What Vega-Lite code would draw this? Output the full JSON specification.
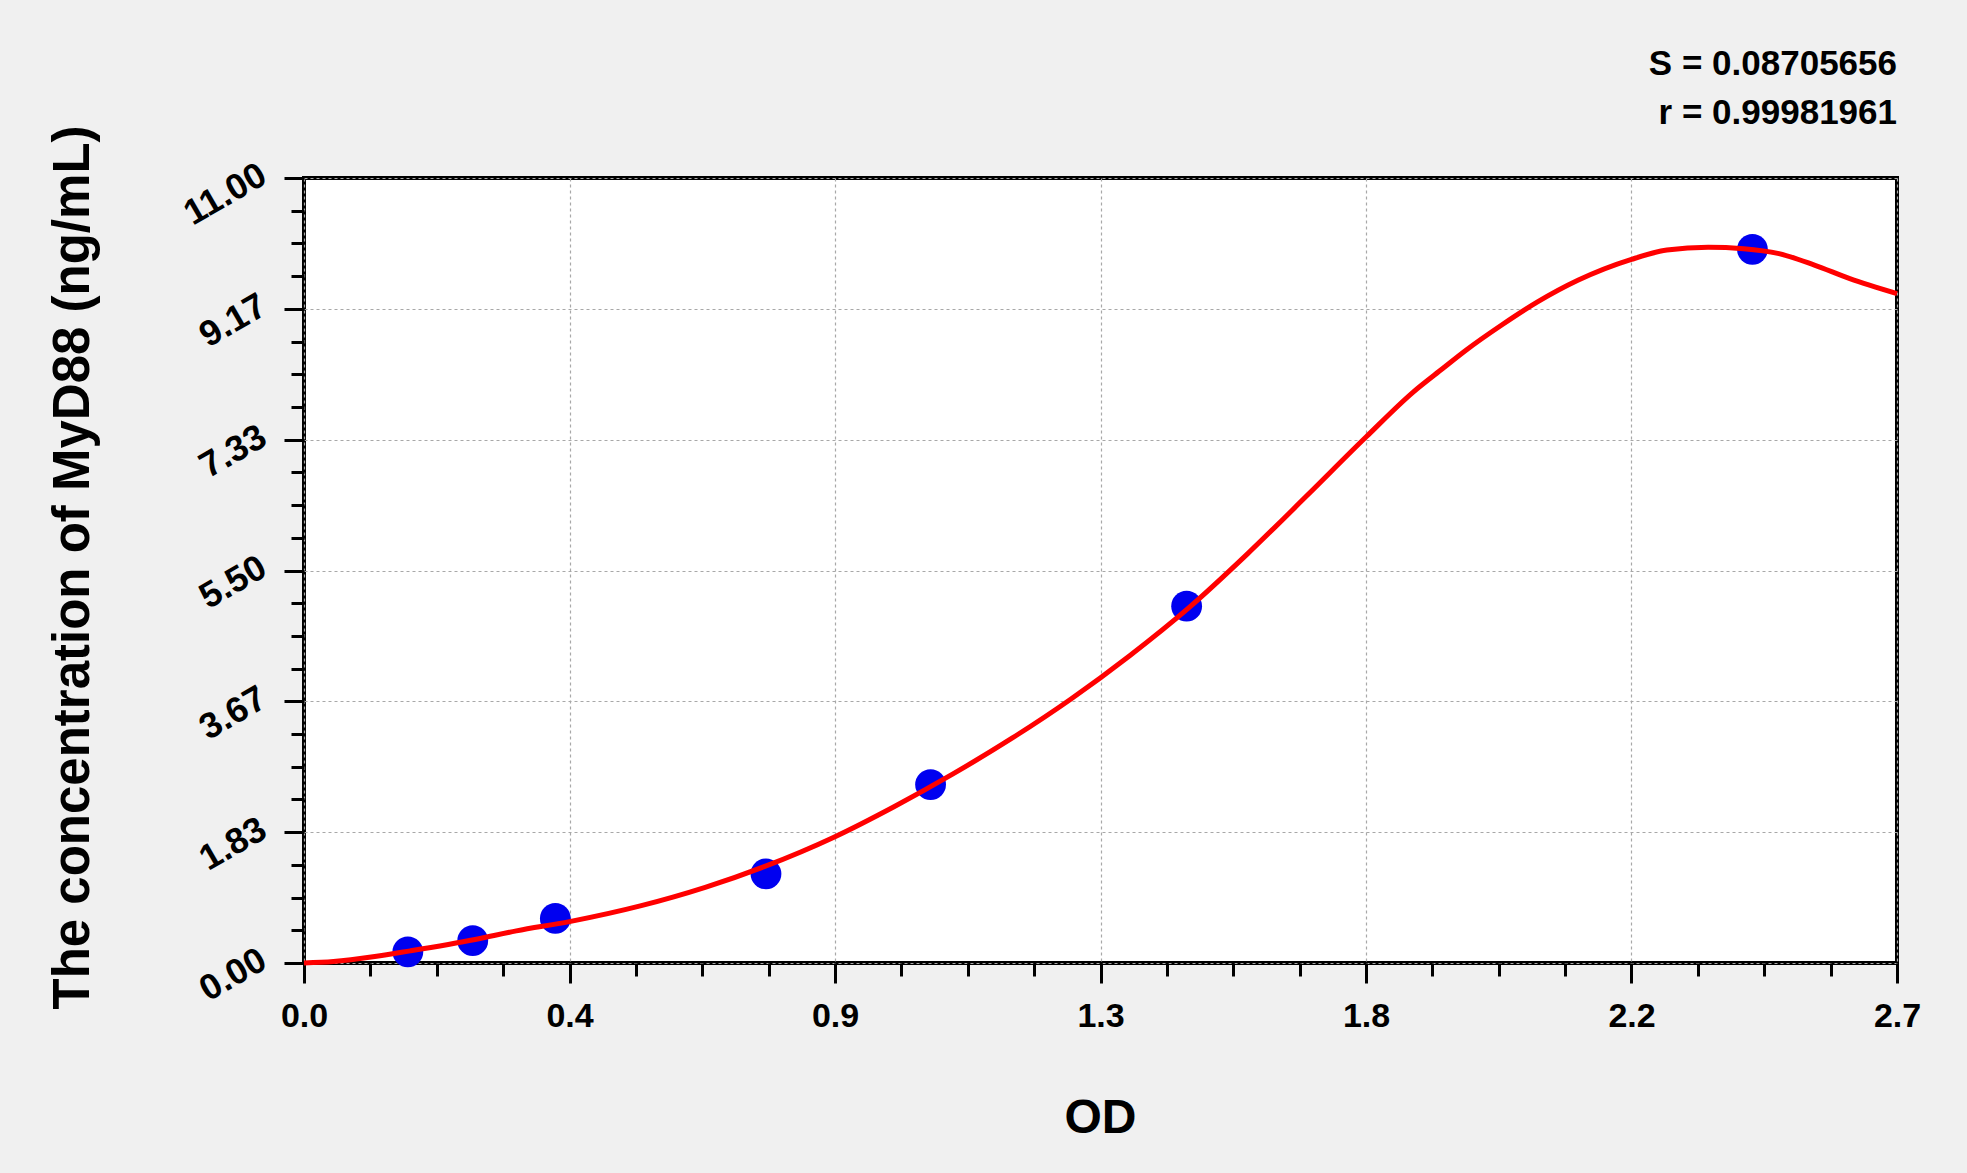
{
  "$schema": "https://vega.github.io/schema/vega-lite/v6.json",
  "autosize": "none",
  "width": 1593,
  "height": 785,
  "padding": {"left": 304, "top": 178, "right": 70, "bottom": 210},
  "background": "#f0f0f0",
  "title": {
    "text": "S = 0.08705656",
    "subtitle": "r = 0.99981961",
    "anchor": "end",
    "orient": "top",
    "frame": "group",
    "offset": 14,
    "dy": 20,
    "font": "Liberation Sans",
    "fontSize": 35,
    "fontWeight": "bold",
    "color": "#000000",
    "subtitleFont": "Liberation Sans",
    "subtitleFontSize": 35,
    "subtitleFontWeight": "bold",
    "subtitleColor": "#000000",
    "subtitlePadding": 14
  },
  "datasets": {
    "standards": [
      {"od": 0.176, "conc": 0.15625},
      {"od": 0.286, "conc": 0.3125},
      {"od": 0.426, "conc": 0.625},
      {"od": 0.783, "conc": 1.25},
      {"od": 1.062, "conc": 2.5},
      {"od": 1.496, "conc": 5.0},
      {"od": 2.455, "conc": 10.0}
    ],
    "fit": [
      {"od": 0.0, "conc": 0.0},
      {"od": 0.05, "conc": 0.02},
      {"od": 0.12, "conc": 0.09},
      {"od": 0.18, "conc": 0.17},
      {"od": 0.29, "conc": 0.33},
      {"od": 0.36, "conc": 0.45},
      {"od": 0.45, "conc": 0.58},
      {"od": 0.57, "conc": 0.8},
      {"od": 0.68, "conc": 1.06},
      {"od": 0.78, "conc": 1.35},
      {"od": 0.9, "conc": 1.77},
      {"od": 1.0, "conc": 2.19},
      {"od": 1.1, "conc": 2.65},
      {"od": 1.2, "conc": 3.15},
      {"od": 1.3, "conc": 3.7},
      {"od": 1.4, "conc": 4.31},
      {"od": 1.5, "conc": 4.98},
      {"od": 1.6, "conc": 5.74},
      {"od": 1.7, "conc": 6.55},
      {"od": 1.8, "conc": 7.37},
      {"od": 1.88, "conc": 8.0},
      {"od": 1.93, "conc": 8.33},
      {"od": 1.97, "conc": 8.59},
      {"od": 2.03, "conc": 8.94},
      {"od": 2.09, "conc": 9.26},
      {"od": 2.16, "conc": 9.57},
      {"od": 2.25, "conc": 9.86},
      {"od": 2.31, "conc": 9.99},
      {"od": 2.38, "conc": 10.03},
      {"od": 2.44, "conc": 10.01},
      {"od": 2.5, "conc": 9.94},
      {"od": 2.56, "conc": 9.78},
      {"od": 2.62, "conc": 9.59},
      {"od": 2.7, "conc": 9.38}
    ]
  },
  "layer": [
    {
      "data": {"name": "standards"},
      "mark": {"type": "point", "filled": true, "shape": "circle", "size": 950, "color": "#0000f0", "opacity": 1},
      "encoding": {
        "x": {
          "field": "od", "type": "quantitative",
          "scale": {"domain": [0, 2.7], "nice": false, "zero": false},
          "axis": {
            "orient": "bottom",
            "values": [0.1125, 0.225, 0.3375, 0.5625, 0.675, 0.7875, 1.0125, 1.125, 1.2375, 1.4625, 1.575, 1.6875, 1.9125, 2.025, 2.1375, 2.3625, 2.475, 2.5875],
            "labels": false, "grid": false, "domain": false, "title": null,
            "tickSize": 13, "tickWidth": 3, "tickColor": "#000000"
          }
        },
        "y": {
          "field": "conc", "type": "quantitative",
          "scale": {"domain": [0, 11], "nice": false, "zero": true},
          "axis": {
            "orient": "left",
            "values": [0.4583, 0.9167, 1.375, 2.2917, 2.75, 3.2083, 4.125, 4.5833, 5.0417, 5.9583, 6.4167, 6.875, 7.7917, 8.25, 8.7083, 9.625, 10.0833, 10.5417],
            "labels": false, "grid": false, "domain": false, "title": null,
            "tickSize": 13, "tickWidth": 3, "tickColor": "#000000"
          }
        }
      }
    },
    {
      "data": {"name": "fit"},
      "mark": {"type": "line", "color": "#ff0000", "strokeWidth": 5, "interpolate": "monotone"},
      "encoding": {
        "x": {
          "field": "od", "type": "quantitative",
          "axis": {
            "orient": "bottom",
            "values": [0, 0.45, 0.9, 1.35, 1.8, 2.25, 2.7],
            "labelExpr": "format(floor(datum.value * 10 + 1e-6) / 10, '.1f')",
            "labelFont": "Liberation Sans", "labelFontSize": 34, "labelFontWeight": "bold", "labelColor": "#000000",
            "labelPadding": 16, "labelFlush": false, "labelOverlap": false,
            "domain": false,
            "tickSize": 20, "tickWidth": 3, "tickColor": "#000000",
            "grid": true, "gridColor": "#a8a8a8", "gridWidth": 1.2, "gridDash": [3, 3],
            "title": "OD",
            "titleFont": "Liberation Sans", "titleFontSize": 48, "titleFontWeight": "bold", "titleColor": "#000000",
            "titleBaseline": "alphabetic", "titleAlign": "center", "titleX": 796, "titleY": 169
          }
        },
        "y": {
          "field": "conc", "type": "quantitative",
          "axis": {
            "orient": "left",
            "values": [0, 1.8333, 3.6667, 5.5, 7.3333, 9.1667, 11],
            "format": ".2f",
            "labelFont": "Liberation Sans", "labelFontSize": 36, "labelFontWeight": "bold", "labelColor": "#000000",
            "labelAngle": -30, "labelAlign": "right", "labelBaseline": "middle",
            "labelPadding": 21, "labelOffset": -6, "labelFlush": false, "labelOverlap": false,
            "domain": false,
            "tickSize": 20, "tickWidth": 3, "tickColor": "#000000",
            "grid": true, "gridColor": "#a8a8a8", "gridWidth": 1.2, "gridDash": [3, 3],
            "title": "The concentration of MyD88 (ng/mL)",
            "titleFont": "Liberation Sans", "titleFontSize": 51, "titleFontWeight": "bold", "titleColor": "#000000",
            "titleAngle": -90, "titleBaseline": "alphabetic", "titleAlign": "center", "titleX": -216, "titleY": 389
          }
        }
      }
    }
  ],
  "resolve": {"axis": {"x": "independent", "y": "independent"}},
  "config": {
    "view": {"fill": "#ffffff", "stroke": "#000000", "strokeWidth": 4}
  }
}
